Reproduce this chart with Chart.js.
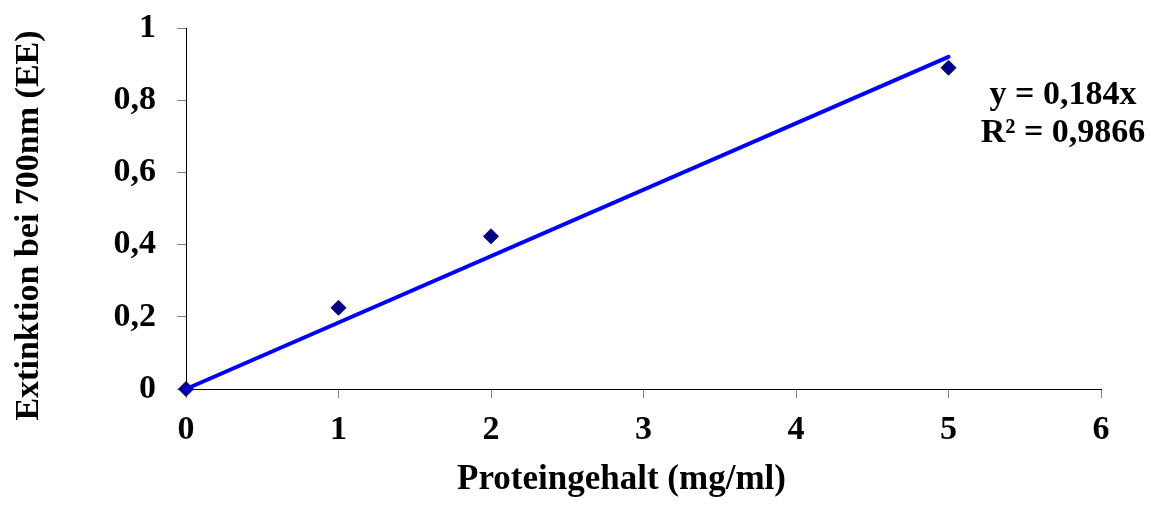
<!DOCTYPE html>
<html>
<head>
<meta charset="utf-8">
<script src="https://cdn.jsdelivr.net/npm/chart.js@4.4.1/dist/chart.umd.min.js"></script>
<style>
  html, body { margin: 0; padding: 0; background: #fff; }
  #wrap { width: 1151px; height: 507px; }
</style>
</head>
<body>
<div id="wrap"><canvas id="myChart" width="1151" height="507"></canvas></div>
<script>
'use strict';

// data
let proteinValues = [0, 1, 2, 5];
let extinctionValues = [0, 0.225, 0.423, 0.89];

// linear trendline through origin (y = 0,184x)
let trendX = [0, 5];
let trendY = [0, 0.92];

let equationLines = ['y = 0,184x', 'R² = 0,9866'];

let xTitle = 'Proteingehalt (mg/ml)';
let yTitle = 'Extinktion bei 700nm (EE)';

let fontFamily = '"Liberation Serif", "Times New Roman", serif';

function toPoints(xs, ys) {
  let pts = [];
  for (let i = 0; i < xs.length; i++) {
    pts.push({ x: xs[i], y: ys[i] });
  }
  return pts;
}

// axis titles + trendline equation, placed like the excel original
const textPlugin = {
  id: 'extraText',
  afterDraw(chart) {
    let ctx = chart.ctx;
    let area = chart.chartArea;
    ctx.save();
    ctx.fillStyle = '#000';
    ctx.textAlign = 'center';
    ctx.textBaseline = 'middle';

    // equation
    ctx.font = 'bold 34px ' + fontFamily;
    let cx = area.right - 38;
    ctx.fillText(equationLines[0], cx, area.top + 67);
    ctx.fillText(equationLines[1], cx, area.top + 105);

    // x title
    ctx.font = 'bold 35px ' + fontFamily;
    ctx.fillText(xTitle, (area.left + area.right) / 2 - 22, area.bottom + 91);

    // y title (rotated)
    ctx.font = 'bold 34px ' + fontFamily;
    ctx.translate(29, (area.top + area.bottom) / 2 + 17);
    ctx.rotate(-Math.PI / 2);
    ctx.fillText(yTitle, 0, 0);
    ctx.restore();
  }
};

const ctx = document.getElementById('myChart').getContext('2d');

let myChart = new Chart(ctx, {
  type: 'scatter',
  data: {
    datasets: [
      {
        type: 'line',
        label: 'Trend',
        data: toPoints(trendX, trendY),
        borderColor: '#0000ff',
        borderWidth: 4,
        borderCapStyle: 'round',
        pointRadius: 0,
        fill: false,
        clip: false,
        order: 0
      },
      {
        label: 'Extinktion',
        data: toPoints(proteinValues, extinctionValues),
        pointStyle: 'rectRot',
        pointRadius: 7.5,
        backgroundColor: '#000080',
        borderColor: '#000080',
        borderWidth: 1,
        clip: false,
        order: 1
      }
    ]
  },
  options: {
    responsive: false,
    animation: false,
    layout: {
      padding: { top: 28, right: 50, left: 0, bottom: 0 }
    },
    plugins: {
      legend: { display: false },
      tooltip: { enabled: false }
    },
    scales: {
      x: {
        type: 'linear',
        min: 0,
        max: 6,
        ticks: {
          stepSize: 1,
          color: '#000',
          padding: 12,
          font: { family: fontFamily, size: 34, weight: 'bold' }
        },
        grid: {
          drawOnChartArea: false,
          drawTicks: true,
          tickLength: 9,
          color: '#808080'
        },
        border: { color: '#000', width: 1 },
        afterFit(scale) {
          scale.height = 118;
          scale.paddingLeft = 0;
          scale.paddingRight = 0;
        }
      },
      y: {
        type: 'linear',
        min: 0,
        max: 1,
        ticks: {
          stepSize: 0.2,
          color: '#000',
          padding: 21,
          font: { family: fontFamily, size: 34, weight: 'bold' },
          callback: function (value) {
            return String(Math.round(value * 10) / 10).replace('.', ',');
          }
        },
        grid: {
          drawOnChartArea: false,
          drawTicks: true,
          tickLength: 9,
          color: '#808080'
        },
        border: { color: '#000', width: 1 },
        afterFit(scale) {
          scale.width = 186;
          scale.paddingTop = 0;
          scale.paddingBottom = 0;
        }
      }
    }
  },
  plugins: [textPlugin]
});
</script>
</body>
</html>
